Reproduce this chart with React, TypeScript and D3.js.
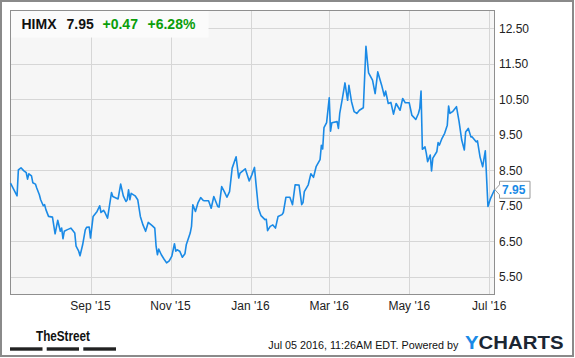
import React from "react";
import * as d3 from "d3";

const dates: string[] = [
  "2015-07-02","2015-07-07","2015-07-08","2015-07-10","2015-07-12","2015-07-14","2015-07-15","2015-07-16","2015-07-18","2015-07-19",
  "2015-07-21","2015-07-22","2015-07-24","2015-07-25","2015-07-27","2015-07-28","2015-07-29","2015-07-31",
  "2015-08-03","2015-08-05","2015-08-07","2015-08-09","2015-08-10","2015-08-11","2015-08-12","2015-08-14","2015-08-17","2015-08-20",
  "2015-08-21","2015-08-23","2015-08-24","2015-08-26","2015-08-28","2015-08-29","2015-08-31",
  "2015-09-01","2015-09-03","2015-09-06","2015-09-08","2015-09-09","2015-09-11","2015-09-12","2015-09-14","2015-09-17","2015-09-18",
  "2015-09-22","2015-09-24","2015-09-26","2015-09-28","2015-09-29","2015-09-30",
  "2015-10-01","2015-10-02","2015-10-05","2015-10-07","2015-10-09","2015-10-11","2015-10-13","2015-10-15","2015-10-18","2015-10-20",
  "2015-10-21","2015-10-22","2015-10-23","2015-10-25","2015-10-27","2015-10-29","2015-10-31",
  "2015-11-02","2015-11-04","2015-11-05","2015-11-06","2015-11-08","2015-11-10","2015-11-12","2015-11-13","2015-11-16","2015-11-17",
  "2015-11-18","2015-11-20","2015-11-22","2015-11-24","2015-11-26","2015-11-27","2015-11-30",
  "2015-12-02","2015-12-04","2015-12-07","2015-12-08","2015-12-10","2015-12-12","2015-12-14","2015-12-16","2015-12-18","2015-12-21",
  "2015-12-23","2015-12-24","2015-12-28","2015-12-31",
  "2016-01-02","2016-01-04","2016-01-05","2016-01-07","2016-01-09","2016-01-12","2016-01-13","2016-01-14","2016-01-16","2016-01-18",
  "2016-01-20","2016-01-22","2016-01-25","2016-01-26","2016-01-28","2016-01-31",
  "2016-02-02","2016-02-04","2016-02-07","2016-02-09","2016-02-10","2016-02-11","2016-02-14","2016-02-16","2016-02-18","2016-02-20",
  "2016-02-23","2016-02-24","2016-02-25","2016-02-26","2016-02-28",
  "2016-03-01","2016-03-02","2016-03-03","2016-03-07","2016-03-08","2016-03-09","2016-03-11","2016-03-13","2016-03-15","2016-03-16",
  "2016-03-18","2016-03-20","2016-03-22","2016-03-24","2016-03-27","2016-03-29","2016-03-31",
  "2016-04-03","2016-04-05","2016-04-07","2016-04-10","2016-04-12","2016-04-13","2016-04-15","2016-04-17","2016-04-19","2016-04-21",
  "2016-04-24","2016-04-26","2016-04-28",
  "2016-05-01","2016-05-03","2016-05-04","2016-05-06","2016-05-08","2016-05-09","2016-05-10","2016-05-11","2016-05-13","2016-05-14",
  "2016-05-15","2016-05-17","2016-05-18","2016-05-19","2016-05-22","2016-05-23","2016-05-24","2016-05-26","2016-05-28","2016-05-30",
  "2016-05-31",
  "2016-06-01","2016-06-03","2016-06-06","2016-06-08","2016-06-10","2016-06-12","2016-06-13","2016-06-15","2016-06-17","2016-06-18",
  "2016-06-21","2016-06-22","2016-06-24","2016-06-26","2016-06-28","2016-06-30",
  "2016-07-02","2016-07-05",
];

const closes: number[] = [
  8.14,7.78,8.51,8.57,8.49,8.43,8.25,8.40,8.34,8.15,
  8.11,8.00,7.81,7.67,7.50,7.53,7.39,7.20,
  7.18,6.71,7.09,6.78,6.87,6.57,6.78,6.82,6.87,6.73,
  6.36,6.22,6.09,6.40,6.82,6.89,6.90,
  6.59,7.20,7.34,7.50,7.31,7.37,7.31,7.15,7.87,7.76,
  7.69,8.11,7.78,7.62,7.67,7.95,
  7.67,7.85,7.78,7.67,7.20,6.96,6.78,7.03,6.94,6.87,
  6.36,6.12,6.28,6.12,6.00,5.89,5.95,
  6.08,6.43,6.22,6.26,6.22,6.05,6.15,6.40,6.73,6.92,
  7.53,7.34,7.59,7.73,7.65,7.64,7.64,
  7.43,7.76,7.48,7.46,8.04,7.90,7.74,7.90,8.56,8.88,
  8.28,8.42,8.54,8.20,
  8.37,8.58,8.18,7.43,7.22,7.11,7.12,6.80,6.92,6.96,
  6.87,7.20,7.25,7.31,7.74,7.74,
  7.53,8.09,8.08,7.53,7.59,7.90,8.09,8.40,8.30,8.60,
  8.80,9.20,9.10,9.70,9.84,
  10.54,9.60,9.84,9.87,9.68,10.10,10.52,10.96,10.47,10.89,
  10.43,10.15,10.10,10.19,10.26,11.99,11.24,
  11.04,10.66,11.27,10.89,10.59,10.73,10.38,10.41,10.08,10.38,
  10.19,10.52,10.40,
  10.40,10.05,10.01,9.93,10.10,10.24,10.73,9.09,9.16,8.98,
  8.74,8.93,8.48,8.84,9.02,9.28,9.21,9.40,9.54,9.77,
  10.31,
  10.10,10.15,10.29,9.87,9.35,9.07,9.58,9.68,9.44,9.44,
  9.30,9.33,8.87,8.60,9.05,7.48,
  7.71,7.95,
];

const xDomain: string[] = ["2015-07-02", "2016-07-05"];
const yDomain: number[] = [5, 13];
const yTicks: number[] = [5.5, 6.5, 7.5, 8.5, 9.5, 10.5, 11.5, 12.5];
const xTickDates: string[] = ["2015-09-01", "2015-11-01", "2016-01-01", "2016-03-01", "2016-05-01", "2016-07-01"];
const xTickLabels: string[] = ["Sep '15", "Nov '15", "Jan '16", "Mar '16", "May '16", "Jul '16"];

const ticker = "HIMX";
const lastPrice = "7.95";
const change = "+0.47";
const changePct = "+6.28%";
const lastValue = 7.95;
const timestamp = "Jul 05 2016, 11:26AM EDT.  Powered by";

const W = 575;
const H = 358;
const L = 10.5;
const R = 494.5;
const T = 10.5;
const B = 294.5;
const FONT = "'Liberation Sans', Arial, Helvetica, sans-serif";

export default function App() {
  const parse = d3.utcParse("%Y-%m-%d");
  const x = d3.scaleUtc().domain(xDomain.map((d) => parse(d)!)).range([L, R]);
  const y = d3.scaleLinear().domain(yDomain).range([B, T]);
  const pts = dates.map((d, i) => [x(parse(d)!), y(closes[i])] as [number, number]);
  const line = d3.line<[number, number]>().x((p) => p[0]).y((p) => p[1]);
  const ly = y(lastValue);
  const boxX = 499;

  return (
    <svg width={W} height={H} style={{ position: "absolute", left: 0, top: 0, background: "#fff" }} fontFamily={FONT}>
      <rect x={1} y={1} width={572} height={355} fill="#fff" stroke="#8a8a8a" strokeWidth={2} />
      <rect x={L} y={T} width={R - L} height={B - T} fill="#f6f6f6" />
      {yTicks.map((t) => (
        <line key={"gy" + t} x1={L} x2={R} y1={Math.round(y(t)) + 0.5} y2={Math.round(y(t)) + 0.5} stroke="#d6d6d6" strokeWidth={1} />
      ))}
      {xTickDates.map((d) => (
        <line key={"gx" + d} x1={Math.round(x(parse(d)!)) + 0.5} x2={Math.round(x(parse(d)!)) + 0.5} y1={T} y2={B} stroke="#d6d6d6" strokeWidth={1} />
      ))}
      <rect x={L} y={T} width={198} height={27} fill="#fbfbfb" />
      <rect x={L} y={T} width={R - L} height={B - T} fill="none" stroke="#8f8f8f" strokeWidth={1} />
      <path d={line(pts) || ""} fill="none" stroke="#1a8ae6" strokeWidth={1.6} strokeLinejoin="round" />

      <text x={21.5} y={28.5} fontSize={14} fontWeight="bold" fill="#111">{ticker}</text>
      <text x={66.5} y={28.5} fontSize={14} fontWeight="bold" fill="#111">{lastPrice}</text>
      <text x={102.5} y={28.5} fontSize={14} fontWeight="bold" fill="#0a9e0a">{change}</text>
      <text x={147.5} y={28.5} fontSize={14} fontWeight="bold" fill="#0a9e0a">{changePct}</text>

      {yTicks.map((t) => (
        <text key={"ty" + t} x={499} y={y(t) + 4.3} fontSize={12} fill="#222">{t.toFixed(2)}</text>
      ))}
      {xTickDates.map((d, i) => (
        <text key={"tx" + d} x={x(parse(d)!)} y={310} fontSize={12} fill="#222" textAnchor="middle">{xTickLabels[i]}</text>
      ))}

      <path
        d={`M${R + 0.5},${ly} L${boxX + 0.5},${ly - 5} L${boxX + 0.5},${ly - 8.5} L${boxX + 31},${ly - 8.5} L${boxX + 31},${ly + 8.5} L${boxX + 0.5},${ly + 8.5} L${boxX + 0.5},${ly + 5} Z`}
        fill="#fff"
        stroke="#9a9a9a"
        strokeWidth={1}
      />
      <text x={boxX + 3} y={ly + 4.3} fontSize={12} fontWeight="bold" fill="#1a8ae6">{lastPrice}</text>

      <text x={36} y={340.7} fontSize={15} fontWeight="bold" fill="#111" textLength={54} lengthAdjust="spacingAndGlyphs">TheStreet</text>
      <rect x={10} y={347.3} width={32.5} height={3.4} fill="#222" />
      <rect x={46.7} y={347.3} width={32.3} height={3.4} fill="#222" />
      <rect x={83.3} y={347.3} width={32.7} height={3.4} fill="#222" />

      <text x={268.3} y={349} fontSize={11} fill="#111" textLength={190} lengthAdjust="spacingAndGlyphs">{timestamp}</text>
      <text x={465} y={348.7} fontSize={18.6} fontWeight="bold" textLength={98.5} lengthAdjust="spacingAndGlyphs">
        <tspan fill="#1a8ae6">Y</tspan>
        <tspan fill="#1b2633">CHARTS</tspan>
      </text>
    </svg>
  );
}
